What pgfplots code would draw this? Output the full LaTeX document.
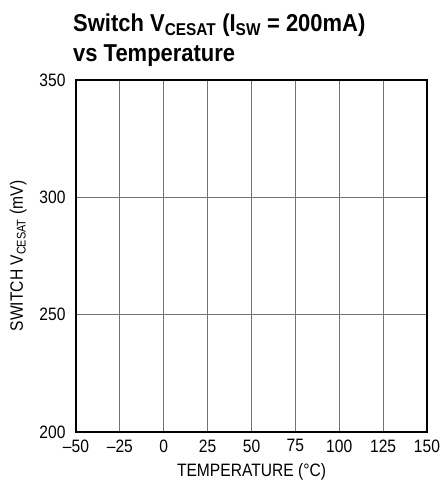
\documentclass[border=0pt]{standalone}
\usepackage{fontspec}
\setmainfont{Liberation Sans}[FakeStretch=0.87]
\newfontfamily\titlefont{Liberation Sans}[FakeStretch=0.9]
\usepackage{pgfplots}
\pgfplotsset{compat=1.18}
\begin{document}
\begin{tikzpicture}[x=1bp,y=1bp]
\path[use as bounding box] (0,0) rectangle (442,490);
\begin{axis}[
  at={(76bp,58bp)}, anchor=south west,
  scale only axis, width=351bp, height=352bp,
  xmin=-50, xmax=150, ymin=200, ymax=350,
  xtick={-50,-25,0,25,50,75,100,125,150},
  xticklabels={\textendash50,\textendash25,0,25,50,75,100,125,150},
  ytick={200,250,300,350},
  /pgf/number format/assume math mode=true,
  grid=major,
  major grid style={draw=black!55, line width=0.8bp},
  axis line style={line width=1.3bp},
  major tick length=0pt,
  tick label style={font=\fontsize{18}{21}\selectfont},
  label style={font=\fontsize{18}{21}\selectfont},
  xticklabel style={yshift=-4bp},
  yticklabel style={xshift=-7bp},
  xlabel={TEMPERATURE (°C)},
  ylabel={SWITCH V\textsubscript{CESAT} (mV)},
  xlabel style={yshift=-4bp},
  ylabel style={yshift=6bp},
]
\end{axis}
\node[anchor=base west, inner sep=0pt, font=\titlefont\bfseries\fontsize{24.5}{28}\selectfont] at (73,458) {Switch V\textsubscript{CESAT} (I\textsubscript{SW} = 200mA)};
\node[anchor=base west, inner sep=0pt, font=\titlefont\bfseries\fontsize{24.5}{28}\selectfont] at (73,428) {vs Temperature};
\end{tikzpicture}
\end{document}
